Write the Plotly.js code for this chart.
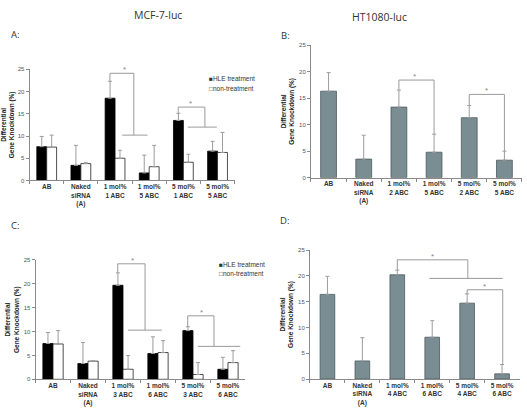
<!DOCTYPE html>
<html><head><meta charset="utf-8">
<script src="https://cdn.plot.ly/plotly-3.0.1.min.js"></script>
<style>html,body{margin:0;padding:0;background:#fff}#chart{width:527px;height:410px}</style>
</head><body><div id="chart"></div>
<script>
// ---- data ----
const categoriesA = ["AB","Naked<br>siRNA<br>(A)","1 mol%<br>1 ABC","1 mol%<br>5 ABC","5 mol%<br>1 ABC","5 mol%<br>5 ABC"];
const categoriesB = ["AB","Naked<br>siRNA<br>(A)","1 mol%<br>2 ABC","1 mol%<br>5 ABC","5 mol%<br>2 ABC","5 mol%<br>5 ABC"];
const categoriesC = ["AB","Naked<br>siRNA<br>(A)","1 mol%<br>3 ABC","1 mol%<br>6 ABC","5 mol%<br>3 ABC","5 mol%<br>6 ABC"];
const categoriesD = ["AB","Naked<br>siRNA<br>(A)","1 mol%<br>4 ABC","1 mol%<br>6 ABC","5 mol%<br>4 ABC","5 mol%<br>6 ABC"];

const hleA = [7.6, 3.4, 18.5, 1.7, 13.5, 6.6];
const hleAErr = [2.3, 4.5, 3.8, 4.0, 1.6, 2.2];
const nonA = [7.5, 3.8, 5.0, 3.1, 4.1, 6.3];
const nonAErr = [2.7, 0.2, 1.8, 4.8, 1.8, 4.5];

const valB = [16.3, 3.5, 13.3, 4.8, 11.3, 3.3];
const errB = [3.5, 4.5, 3.2, 3.4, 2.3, 1.7];

const hleC = [7.5, 3.3, 19.7, 5.4, 10.2, 2.1];
const hleCErr = [2.3, 4.4, 2.6, 3.5, 0.8, 2.5];
const nonC = [7.4, 3.8, 2.1, 5.6, 1.0, 3.5];
const nonCErr = [2.8, 0.1, 2.9, 2.5, 2.5, 2.5];

const valD = [16.4, 3.5, 20.2, 8.1, 14.7, 1.0];
const errD = [3.5, 4.5, 0.9, 3.2, 1.8, 1.8];

const seriesNames = ["HLE treatment", "non-treatment"];
const yTicks = [0, 5, 10, 15, 20, 25];

// significance brackets: [x start, bottom at start, top, x end, bottom at end, group line from, group line to, star x]
const bracketsA = [[1.85, 22.3, 24.1, 2.55, 10.2, 2.21, 2.95, 2.27], [3.85, 15.1, 16.5, 4.63, 12.0, 4.13, 4.98, 4.22]];
const bracketsB = [[2, 16.5, 18.4, 3, 8.2, null, null, 2.45], [4, 13.6, 15.7, 5, 5.0, null, null, 4.5]];
const bracketsC = [[1.85, 22.3, 24.2, 2.63, 10.3, 2.14, 3.11, 2.28], [3.85, 11.0, 13.3, 4.6, 6.9, 4.14, 5.35, 4.23]];
const bracketsD = [[2, 21.1, 23.1, 4.02, 19.5, 2.92, 5.02, 3.0], [4, 16.5, 17.3, 5.02, 2.8, null, null, 4.51]];

// ---- styles ----
const FONT = "Liberation Sans, Arial, sans-serif";
const errStyle = {type: 'data', symmetric: false, color: '#9c9c9c', thickness: 1, width: 2};
function err(arr) { return Object.assign({array: arr, arrayminus: arr.map(() => 0)}, errStyle); }

const traces = [
  {type: 'bar', name: seriesNames[0], x: categoriesA, y: hleA, error_y: err(hleAErr), xaxis: 'x', yaxis: 'y',
   marker: {color: '#000', line: {color: '#000', width: 0.8}}, showlegend: false},
  {type: 'bar', name: seriesNames[1], x: categoriesA, y: nonA, error_y: err(nonAErr), xaxis: 'x', yaxis: 'y',
   marker: {color: '#fff', line: {color: '#222', width: 0.8}}, showlegend: false},
  {type: 'bar', name: 'HT1080-luc', x: categoriesB, y: valB, error_y: err(errB), xaxis: 'x2', yaxis: 'y2',
   marker: {color: '#7a8d92', line: {color: '#4c5a5e', width: 0.8}}, showlegend: false},
  {type: 'bar', name: seriesNames[0], x: categoriesC, y: hleC, error_y: err(hleCErr), xaxis: 'x3', yaxis: 'y3',
   marker: {color: '#000', line: {color: '#000', width: 0.8}}, showlegend: false},
  {type: 'bar', name: seriesNames[1], x: categoriesC, y: nonC, error_y: err(nonCErr), xaxis: 'x3', yaxis: 'y3',
   marker: {color: '#fff', line: {color: '#222', width: 0.8}}, showlegend: false},
  {type: 'bar', name: 'HT1080-luc', x: categoriesD, y: valD, error_y: err(errD), xaxis: 'x4', yaxis: 'y4',
   marker: {color: '#7a8d92', line: {color: '#4c5a5e', width: 0.8}}, showlegend: false}
];

function xax(domain, anchor) {
  return {domain: domain, anchor: anchor, type: 'category', showline: true, linecolor: '#8a8a8a', linewidth: 1,
    ticks: 'outside', tickson: 'boundaries', ticklen: 3, tickcolor: '#8a8a8a', showgrid: false, zeroline: false,
    tickfont: {family: FONT, size: 6.5, color: '#333', weight: 'bold'}, fixedrange: true};
}
function yax(domain, anchor) {
  return {domain: domain, anchor: anchor, range: [0, 25], tickvals: yTicks, showline: true, linecolor: '#8a8a8a',
    linewidth: 1, ticks: 'outside', ticklen: 3, tickcolor: '#8a8a8a', showgrid: false, zeroline: false,
    tickfont: {family: FONT, size: 6, color: '#555'},
    title: {text: 'Differential<br>Gene Knockdown (%)', font: {family: FONT, size: 6.5, color: '#222', weight: 'bold'}, standoff: 3}};
}

const shapes = [];
const annotations = [];
function addBrackets(list, xr, yr) {
  const ln = {color: '#9a9a9a', width: 1};
  list.forEach(b => {
    const [x0, b0, top, x1, b1, g0, g1, sx] = b;
    shapes.push({type: 'line', xref: xr, yref: yr, x0: x0, x1: x0, y0: b0, y1: top, line: ln});
    shapes.push({type: 'line', xref: xr, yref: yr, x0: x0, x1: x1, y0: top, y1: top, line: ln});
    shapes.push({type: 'line', xref: xr, yref: yr, x0: x1, x1: x1, y0: top, y1: b1, line: ln});
    if (g0 !== null) shapes.push({type: 'line', xref: xr, yref: yr, x0: g0, x1: g1, y0: b1, y1: b1, line: ln});
    annotations.push({xref: xr, yref: yr, x: sx, y: top, yanchor: 'bottom', text: '*', showarrow: false,
      font: {family: FONT, size: 8, color: '#888'}, yshift: -3});
  });
}
addBrackets(bracketsA, 'x', 'y');
addBrackets(bracketsB, 'x2', 'y2');
addBrackets(bracketsC, 'x3', 'y3');
addBrackets(bracketsD, 'x4', 'y4');

const titleFont = {family: 'Open Sans, Liberation Sans, sans-serif', size: 10.5, color: '#333'};
const letterFont = {family: 'Open Sans, Liberation Sans, sans-serif', size: 9.5, color: '#333'};
annotations.push(
  {xref: 'paper', yref: 'paper', x: 0.25, y: 0.985, text: 'MCF-7-luc', showarrow: false, font: titleFont},
  {xref: 'paper', yref: 'paper', x: 0.776, y: 0.98, text: 'HT1080-luc', showarrow: false, font: titleFont},
  {xref: 'paper', yref: 'paper', x: 0.018, y: 0.937, xanchor: 'left', text: 'A:', showarrow: false, font: letterFont},
  {xref: 'paper', yref: 'paper', x: 0.530, y: 0.934, xanchor: 'left', text: 'B:', showarrow: false, font: letterFont},
  {xref: 'paper', yref: 'paper', x: 0.018, y: 0.451, xanchor: 'left', text: 'C:', showarrow: false, font: letterFont},
  {xref: 'paper', yref: 'paper', x: 0.528, y: 0.463, xanchor: 'left', text: 'D:', showarrow: false, font: letterFont}
);
const legFont = {family: FONT, size: 6.5, color: '#333'};
annotations.push(
  {xref: 'paper', yref: 'paper', x: 0.393, y: 0.822, xanchor: 'left', text: '■' + seriesNames[0], showarrow: false, font: legFont},
  {xref: 'paper', yref: 'paper', x: 0.393, y: 0.798, xanchor: 'left', text: '□' + seriesNames[1], showarrow: false, font: legFont},
  {xref: 'paper', yref: 'paper', x: 0.412, y: 0.356, xanchor: 'left', text: '■' + seriesNames[0], showarrow: false, font: legFont},
  {xref: 'paper', yref: 'paper', x: 0.412, y: 0.334, xanchor: 'left', text: '□' + seriesNames[1], showarrow: false, font: legFont}
);

const layout = {
  width: 527, height: 410, margin: {l: 0, r: 0, t: 0, b: 0}, paper_bgcolor: '#fff', plot_bgcolor: 'rgba(0,0,0,0)',
  barmode: 'group', bargap: 0.42, bargroupgap: 0, showlegend: false,
  xaxis: xax([0.0562, 0.4452], 'y'), yaxis: yax([0.5598, 0.8310], 'x'),
  xaxis2: xax([0.5901, 0.9905], 'y2'), yaxis2: yax([0.5666, 0.8902], 'x2'),
  xaxis3: xax([0.0674, 0.4658], 'y3'), yaxis3: yax([0.0749, 0.3659], 'x3'),
  xaxis4: xax([0.5882, 0.9858], 'y4'), yaxis4: yax([0.0756, 0.3902], 'x4'),
  shapes: shapes, annotations: annotations
};
// single-series panels use narrower bars
traces[2].width = 0.45; traces[5].width = 0.42;

Plotly.newPlot('chart', traces, layout, {staticPlot: true, displayModeBar: false});
</script></body></html>
